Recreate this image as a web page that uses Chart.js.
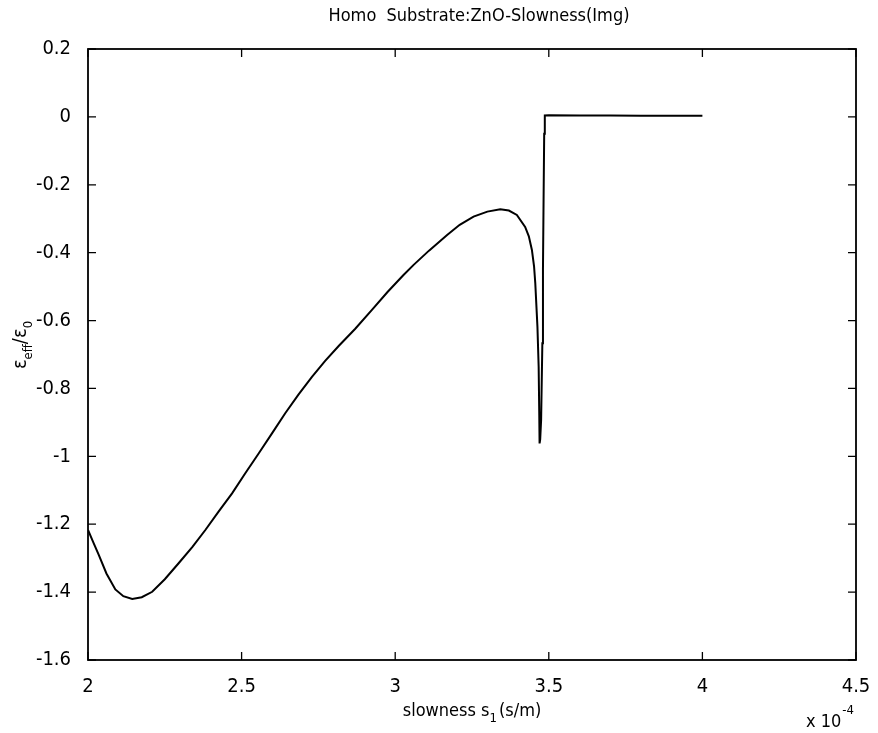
<!DOCTYPE html>
<html lang="en">
<head>
    <meta charset="UTF-8">
    <title>Homo Substrate:ZnO-Slowness(Img)</title>
    <script src="https://cdn.jsdelivr.net/npm/chart.js"></script>
    <style>
        body { margin: 0; background: #fff; }
        #wrap { width: 878px; height: 733px; }
    </style>
</head>
<body>
    <div id="wrap"><canvas id="chart"></canvas></div>

<script>
// slowness s1, in units of 1e-4 s/m
const slowness = [
    2.000, 2.018, 2.035, 2.060, 2.089, 2.115, 2.144, 2.175, 2.209, 2.250,
    2.295, 2.340, 2.382, 2.425, 2.469, 2.512, 2.556, 2.600, 2.642, 2.685,
    2.729, 2.772, 2.816, 2.870, 2.925, 2.975, 3.027, 3.060, 3.110, 3.169,
    3.210, 3.255, 3.300, 3.342, 3.370, 3.396, 3.423, 3.435, 3.445, 3.452,
    3.456, 3.463, 3.467, 3.469, 3.470, 3.472, 3.475, 3.479, 3.481, 3.483,
    3.485, 3.487, 3.500, 3.600, 3.700, 3.800, 3.900, 4.000
];

// effective permittivity eps_eff / eps_0 (imaginary part)
const epsRatio = [
    -1.217, -1.255, -1.290, -1.345, -1.392, -1.412, -1.420, -1.415, -1.399, -1.362,
    -1.315, -1.267, -1.217, -1.163, -1.109, -1.050, -0.991, -0.931, -0.873, -0.818,
    -0.766, -0.719, -0.675, -0.624, -0.568, -0.516, -0.466, -0.436, -0.394, -0.348,
    -0.318, -0.294, -0.279, -0.272, -0.276, -0.289, -0.324, -0.352, -0.392, -0.440,
    -0.490, -0.618, -0.736, -0.880, -0.962, -0.950, -0.893, -0.667, -0.450, -0.245,
    -0.050, 0.004, 0.005, 0.004, 0.004, 0.003, 0.003, 0.003
];

const xTicks = [2, 2.5, 3, 3.5, 4, 4.5];
const yTicks = [0.2, 0, -0.2, -0.4, -0.6, -0.8, -1, -1.2, -1.4, -1.6];

const FONT = '"Liberation Sans Narrow", "DejaVu Sans Condensed", "Liberation Sans", sans-serif';

const points = slowness.map((s, i) => ({ x: s, y: epsRatio[i] }));

function fmt(v) {
    return String(Number(v.toFixed(1)));
}

// MATLAB style frame: full box with ticks pointing inwards on all sides,
// plus the title, axis labels with sub/superscripts
const matlabFrame = {
    id: 'matlabFrame',
    afterDraw(chart) {
        const ctx = chart.ctx;
        const a = chart.chartArea;
        const xs = chart.scales.x;
        const ys = chart.scales.y;
        const tl = 8;

        ctx.save();
        ctx.strokeStyle = '#000';
        ctx.lineWidth = 1.8;
        ctx.strokeRect(a.left, a.top, a.right - a.left, a.bottom - a.top);

        ctx.lineWidth = 1.3;
        ctx.beginPath();
        xTicks.forEach(v => {
            const px = xs.getPixelForValue(v);
            ctx.moveTo(px, a.bottom); ctx.lineTo(px, a.bottom - tl);
            ctx.moveTo(px, a.top); ctx.lineTo(px, a.top + tl);
        });
        yTicks.forEach(v => {
            const py = ys.getPixelForValue(v);
            ctx.moveTo(a.left, py); ctx.lineTo(a.left + tl, py);
            ctx.moveTo(a.right, py); ctx.lineTo(a.right - tl, py);
        });
        ctx.stroke();

        ctx.fillStyle = '#000';
        ctx.textBaseline = 'alphabetic';

        // title
        ctx.font = '18px ' + FONT;
        ctx.textAlign = 'center';
        ctx.fillText('Homo  Substrate:ZnO-Slowness(Img)', 479, 21);

        // x label: slowness s1 (s/m)
        const big = '18px ' + FONT;
        const small = '13px ' + FONT;
        const parts = [
            ['slowness s', big, 0],
            ['1', small, 6],
            ['(s/m)', big, 0]
        ];
        let total = 0;
        parts.forEach(p => { ctx.font = p[1]; total += ctx.measureText(p[0]).width; });
        total += 2;
        let cx = 472 - total / 2;
        ctx.textAlign = 'left';
        parts.forEach((p, i) => {
            ctx.font = p[1];
            ctx.fillText(p[0], cx, 716 + p[2]);
            cx += ctx.measureText(p[0]).width + (i === 1 ? 2 : 0);
        });

        // exponent label
        ctx.font = big;
        ctx.fillText('x 10', 806, 727);
        const w10 = ctx.measureText('x 10').width;
        ctx.font = small;
        ctx.fillText('-4', 806 + w10 + 1, 714);

        // y label: eps_eff / eps_0, rotated
        ctx.translate(26, 345);
        ctx.rotate(-Math.PI / 2);
        const yparts = [
            ['\u03b5', '20px ' + FONT, 0],
            ['eff', small, 6],
            ['/\u03b5', '20px ' + FONT, 0],
            ['0', small, 6]
        ];
        let ytotal = 0;
        yparts.forEach(p => { ctx.font = p[1]; ytotal += ctx.measureText(p[0]).width; });
        let yx = -ytotal / 2;
        yparts.forEach(p => {
            ctx.font = p[1];
            ctx.fillText(p[0], yx, p[2]);
            yx += ctx.measureText(p[0]).width;
        });
        ctx.restore();
    }
};

new Chart(document.getElementById('chart'), {
    type: 'line',
    data: {
        datasets: [{
            label: 'eps_eff/eps_0',
            data: points,
            borderColor: '#000',
            borderWidth: 2,
            pointRadius: 0,
            tension: 0,
            fill: false
        }]
    },
    options: {
        responsive: true,
        maintainAspectRatio: false,
        animation: false,
        layout: { padding: { top: 49, right: 22, left: 0, bottom: 0 } },
        plugins: {
            legend: { display: false },
            title: { display: false },
            tooltip: { enabled: false }
        },
        scales: {
            x: {
                type: 'linear',
                min: 2,
                max: 4.5,
                afterFit: s => { s.height = 73; },
                afterBuildTicks: s => { s.ticks = xTicks.map(v => ({ value: v })); },
                grid: { display: false },
                border: { display: false },
                ticks: {
                    color: '#000',
                    padding: 7,
                    maxRotation: 0,
                    font: { family: FONT, size: 20 },
                    callback: v => fmt(v)
                }
            },
            y: {
                type: 'linear',
                min: -1.6,
                max: 0.2,
                afterFit: s => { s.width = 88; },
                afterBuildTicks: s => { s.ticks = yTicks.map(v => ({ value: v })); },
                grid: { display: false },
                border: { display: false },
                ticks: {
                    color: '#000',
                    padding: 9,
                    font: { family: FONT, size: 20 },
                    callback: v => fmt(v)
                }
            }
        }
    },
    plugins: [matlabFrame]
});
</script>
</body>
</html>
